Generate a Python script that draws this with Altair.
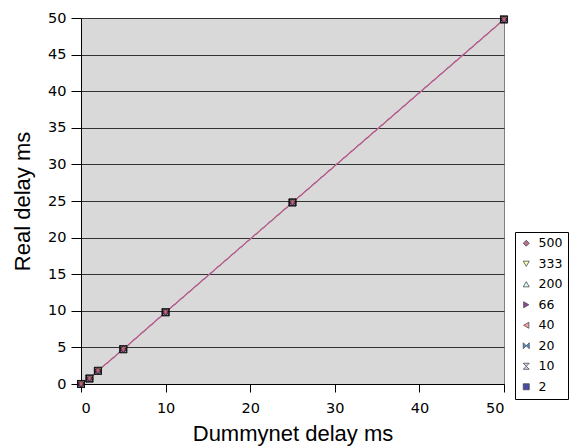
import altair as alt
import pandas as pd

# Measured delays for each packet-rate series (Dummynet setting vs. observed)
series = ["500", "333", "200", "66", "40", "20", "10", "2"]
dummynet_ms = [0, 1, 2, 5, 10, 25, 50]
real_ms = [0.0, 0.75, 1.8, 4.75, 9.8, 24.8, 49.8]

# Marker shapes and fills per series, plus the line colours
bowtie = "M-1,-1L0,0L-1,1Z M1,-1L0,0L1,1Z"
hourglass = "M-1,-1L1,-1L0,0Z M-1,1L1,1L0,0Z"
shapes = ["diamond", "triangle-down", "triangle-up", "triangle-right",
          "triangle-left", bowtie, hourglass, "square"]
fills = ["#993366", "#FFFF99", "#CCFFFF", "#660066",
         "#FF8080", "#0066CC", "#CCCCFF", "#000080"]
line_colors = ["#C0559A", "#FFFF00", "#00FFFF", "#800080",
               "#800000", "#008080", "#4060D0", "#5050C0"]

# line keys are kept distinct from the legend keys so the hidden
# stroke legend never merges with the visible marker legend
line_keys = ["line " + s for s in series]

rows = []
# draw order: last legend entry first so "500" ends up on top
for order, s in enumerate(reversed(series)):
    for xv, yv in zip(dummynet_ms, real_ms):
        rows.append({"series": s, "line": "line " + s, "x": xv, "y": yv,
                     "draw": order})
df = pd.DataFrame(rows)

label_font = "DejaVu Sans"
title_font = "Liberation Sans"

x_enc = alt.X("x:Q", title="Dummynet delay ms",
              scale=alt.Scale(domain=[0, 50], nice=False),
              axis=alt.Axis(values=[0, 10, 20, 30, 40, 50], grid=False,
                            tickSize=8, labelPadding=9, titlePadding=9))
y_enc = alt.Y("y:Q", title="Real delay ms",
              scale=alt.Scale(domain=[0, 50], nice=False),
              axis=alt.Axis(values=list(range(0, 51, 5)), grid=True,
                            tickSize=10, labelPadding=5, titlePadding=13))

line_stroke = alt.Stroke("line:N",
                         scale=alt.Scale(domain=line_keys, range=line_colors),
                         legend=None)

# Lines underneath, with the "500" line drawn last so it sits on top
lines_rest = alt.Chart(df).transform_filter(
    alt.datum.series != "500"
).mark_line(strokeWidth=1).encode(x=x_enc, y=y_enc, stroke=line_stroke)

line_top = alt.Chart(df).transform_filter(
    alt.datum.series == "500"
).mark_line(strokeWidth=1.2).encode(x=x_enc, y=y_enc, stroke=line_stroke)

legend = alt.Legend(title=None, orient="none", legendX=434, legendY=214)

points = alt.Chart(df).mark_point(filled=True, size=50, stroke="black",
                                  strokeWidth=0.8).encode(
    x=x_enc, y=y_enc,
    color=alt.Color("series:N", sort=series,
                    scale=alt.Scale(domain=series, range=fills),
                    legend=legend),
    shape=alt.Shape("series:N", sort=series,
                    scale=alt.Scale(domain=series, range=shapes),
                    legend=legend),
    order=alt.Order("draw:Q"),
)

chart = alt.layer(lines_rest, line_top, points).properties(
    width=423, height=366,
    autosize=alt.AutoSizeParams(type="none"),
    padding={"left": 81, "top": 18, "right": 66, "bottom": 64},
    background="white",
).configure_view(
    fill="#D9D9D9", stroke="#808080", strokeWidth=1,
).configure_axis(
    labelFont=label_font, titleFont=title_font, labelFontSize=14.5,
    titleFontSize=22, titleFontWeight="normal", labelColor="black",
    titleColor="black", domainColor="black", tickColor="black",
    gridColor="#333333", gridWidth=1, domainWidth=1,
).configure_legend(
    labelFont=label_font, labelFontSize=12.5, labelColor="black",
    strokeColor="black", fillColor="white", padding=5,
    rowPadding=7.5, symbolSize=36, symbolStrokeColor="black",
    symbolStrokeWidth=0.8, labelOffset=6,
)

chart.save("out.html", embed_options={"renderer": "svg", "actions": False})
